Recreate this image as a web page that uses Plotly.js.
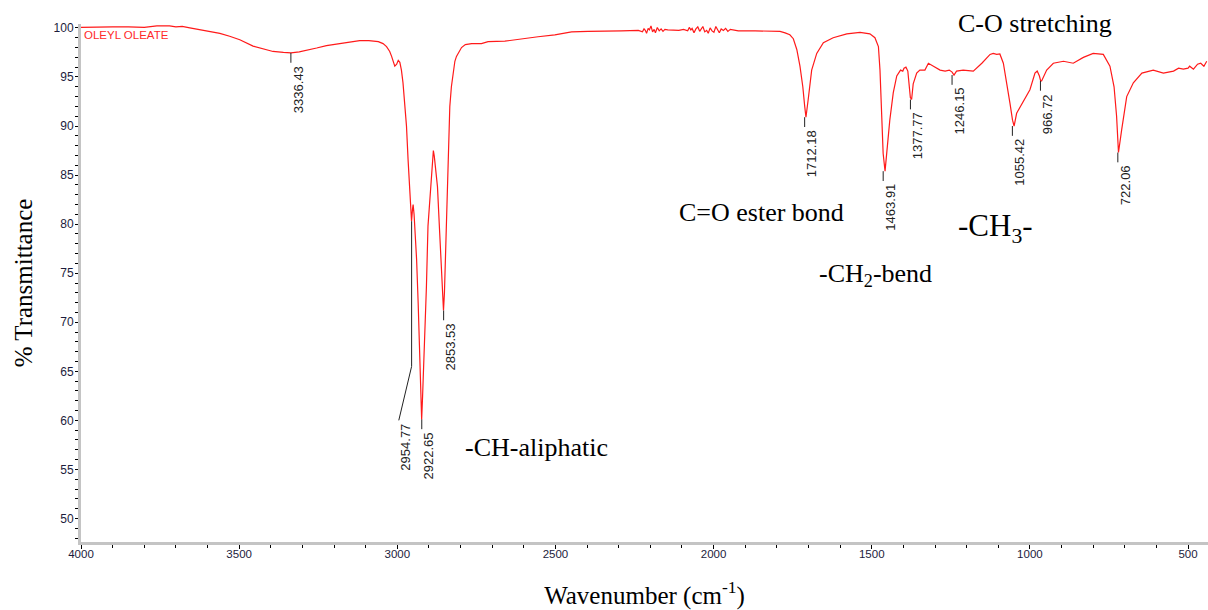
<!DOCTYPE html>
<html>
<head>
<meta charset="utf-8">
<script src="https://cdn.plot.ly/plotly-3.0.1.min.js"></script>
<style>html,body{margin:0;padding:0;background:#fff;}#chart{width:1208px;height:610px;}</style>
</head>
<body>
<div id="chart"></div>
<script>
// Spectrum
const wavenumber = [4000,3950,3900,3850,3800,3760,3720,3700,3680,3656,3624,3590,3561,3530,3498,3456,3420,3393,3360,3336,3310,3287,3255,3224,3190,3161,3119,3090,3060,3045,3034,3024,3018,3012,3008,3002,2997,2992,2987,2982,2976,2971,2966,2960,2957,2955,2952,2950,2947,2945,2939,2934,2929,2926,2923,2920,2915,2908,2903,2894,2889,2886,2883,2878,2873,2866,2860,2856,2854,2851,2848,2844,2839,2834,2829,2824,2818,2813,2805,2797,2785,2765,2734,2713,2660,2607,2555,2502,2449,2397,2344,2291,2238,2225,2220,2216,2212,2207,2203,2198,2193,2188,2184,2178,2172,2166,2160,2154,2145,2133,2110,2095,2082,2077,2072,2068,2062,2056,2050,2044,2039,2034,2028,2022,2017,2011,2005,1999,1993,1988,1982,1976,1969,1962,1955,1947,1922,1869,1817,1790,1774,1759,1748,1737,1727,1718,1712,1708,1701,1690,1674,1653,1622,1579,1537,1506,1490,1479,1474,1469,1464,1458,1453,1443,1432,1421,1409,1402,1398,1392,1386,1381,1378,1374,1369,1358,1348,1332,1321,1305,1284,1268,1255,1246,1240,1232,1211,1179,1152,1126,1116,1105,1095,1084,1073,1063,1055,1050,1042,1021,1000,984,977,970,966,963,947,926,894,863,831,800,768,747,734,726,722,720,710,694,673,646,610,578,546,530,515,500,495,483,470,460,450,441];
const transmittance = [100.05,100.1,100.1,100.1,100.05,100.2,100.2,100.1,100.15,100.0,99.8,99.65,99.45,99.15,98.8,98.15,97.8,97.6,97.5,97.45,97.55,97.7,97.95,98.2,98.4,98.5,98.7,98.7,98.6,98.4,98.1,97.6,97.1,96.5,96.1,96.3,96.7,96.5,95.7,94.4,92.0,90.0,86.6,82.5,80.6,80.3,81.5,82.0,81.0,79.8,76.4,71.9,66.8,62.0,60.1,62.5,66.8,73.6,79.8,84.5,86.9,87.5,86.9,85.5,83.8,79.1,75.0,72.0,71.2,73.0,76.5,80.4,87.2,92.0,94.0,95.4,96.6,97.1,97.6,98.0,98.3,98.4,98.4,98.6,98.65,98.9,99.1,99.3,99.6,99.65,99.65,99.7,99.75,99.6,99.9,99.75,99.45,99.95,99.8,100.2,99.6,99.85,99.5,100.05,99.7,99.9,99.65,99.85,99.8,99.8,99.75,99.85,99.7,100.05,99.8,99.95,99.5,99.9,100.1,99.65,99.85,100.15,99.6,99.75,99.45,100.0,99.7,99.55,100.15,99.8,99.5,99.9,99.75,99.95,99.65,99.85,99.7,99.7,99.65,99.65,99.5,99.3,98.9,97.8,96.1,94.0,92.0,90.9,92.7,95.7,97.4,98.5,99.0,99.4,99.55,99.4,99.0,98.1,95.7,91.3,87.2,85.4,87.2,90.6,93.4,95.1,95.7,95.6,95.9,96.0,95.6,94.0,92.9,92.7,94.3,95.4,95.7,95.7,96.4,96.1,95.7,95.6,95.7,95.5,95.2,95.6,95.7,95.6,96.4,97.3,97.4,97.3,97.35,96.4,94.4,92.3,90.6,90.0,91.3,92.5,93.7,95.4,95.6,95.1,94.6,94.6,95.7,96.4,96.6,96.4,97.0,97.4,97.3,96.1,94.0,91.0,88.0,87.3,89.6,93.0,94.4,95.4,95.7,95.4,95.6,95.9,95.8,95.9,96.1,95.8,96.3,96.4,96.1,96.6,96.8];

// Peak picks
const peakWn = [3336.43, 2954.77, 2922.65, 2853.53, 1712.18, 1463.91, 1377.77, 1246.15, 1055.42, 966.72, 722.06];
const peakT  = [97.45, 80.3, 60.1, 71.2, 90.9, 85.4, 92.7, 95.2, 90.0, 94.6, 87.3];
const peakText = ["3336.43","2954.77","2922.65","2853.53","1712.18","1463.91","1377.77","1246.15","1055.42","966.72","722.06"];
// leader for 2954.77 (bent line)
const leaderWn = [2954.77, 2954.77, 2995.3];
const leaderT  = [80.3, 65.5, 60.0];

// Group labels
const groupText = ["C-O stretching", "C=O ester bond", "-CH<sub>2</sub>-bend", "-CH<sub>3</sub>-", "-CH-aliphatic"];
const groupWn   = [984, 1849, 1488, 1110, 2560];
const groupT    = [100.45, 81.15, 74.8, 79.6, 57.2];
const groupSize = [26, 26, 26, 31, 26];

const xTicks = [4000, 3500, 3000, 2500, 2000, 1500, 1000, 500];
const yTicks = [50, 55, 60, 65, 70, 75, 80, 85, 90, 95, 100];
const yRange = [47.6, 100.4];

const tickLen = 1.0;
const lx = [], ly = [];
const annX = [], annY = [];
peakWn.forEach((w, i) => {
  if (i === 1) {
    leaderWn.forEach((v, k) => { lx.push(v); ly.push(leaderT[k]); });
    lx.push(null); ly.push(null);
    annX.push(leaderWn[2]); annY.push(leaderT[2]);
  } else {
    lx.push(w, w, null); ly.push(peakT[i], peakT[i] - tickLen, null);
    annX.push(w); annY.push(peakT[i] - tickLen);
  }
});

const traces = [
  {x: wavenumber, y: transmittance, type: 'scatter', mode: 'lines',
   line: {color: '#ff1a1a', width: 1.2}, hoverinfo: 'x+y', showlegend: false},
  {x: lx, y: ly, type: 'scatter', mode: 'lines', line: {color: '#222', width: 1},
   hoverinfo: 'skip', showlegend: false}
];

const annotations = [];
peakText.forEach((t, i) => {
  annotations.push({x: annX[i], y: annY[i], xref: 'x', yref: 'y', text: t, showarrow: false,
    textangle: -90, xanchor: 'center', yanchor: 'top', xshift: 7, yshift: -1,
    font: {family: 'Liberation Sans, Arial, sans-serif', size: 13, color: '#222'}});
});
groupText.forEach((t, i) => {
  annotations.push({x: groupWn[i], y: (groupT[i] - yRange[0]) / (yRange[1] - yRange[0]),
    xref: 'x', yref: 'paper', text: t, showarrow: false,
    xanchor: 'center', yanchor: 'middle',
    font: {family: 'Liberation Serif, Times New Roman, serif', size: groupSize[i], color: '#000'}});
});
annotations.push({x: 4000, y: 100.05, xref: 'x', yref: 'y', text: 'OLEYL OLEATE', showarrow: false,
  xanchor: 'left', yanchor: 'top', xshift: 1,
  font: {family: 'Liberation Sans, Arial, sans-serif', size: 11.5, color: '#ff2a2a'}});

const layout = {
  width: 1208, height: 610,
  margin: {l: 81, r: 0, t: 24, b: 68},
  paper_bgcolor: '#fff', plot_bgcolor: '#fff',
  showlegend: false,
  xaxis: {
    range: [4000, 437], tickvals: xTicks, ticktext: xTicks.map(String),
    showgrid: false, zeroline: false, showline: true, linecolor: '#c4c4c4', linewidth: 3,
    ticks: 'outside', ticklen: 4, tickcolor: '#000', tickwidth: 1, ticklabelstandoff: -5,
    minor: {dtick: 100, tick0: 0, ticks: 'outside', ticklen: 3, tickcolor: '#000', showgrid: false},
    tickfont: {family: 'Liberation Sans, Arial, sans-serif', size: 11.5, color: '#1c1c3c'},
    title: {text: 'Wavenumber (cm<sup>-1</sup>)', standoff: 28,
      font: {family: 'Liberation Serif, Times New Roman, serif', size: 25, color: '#000'}}
  },
  yaxis: {
    range: yRange, tickvals: yTicks, ticktext: yTicks.map(String),
    showgrid: false, zeroline: false, showline: true, linecolor: '#c4c4c4', linewidth: 3,
    ticks: 'outside', ticklen: 3, tickcolor: '#000', tickwidth: 1, ticklabelstandoff: -1,
    minor: {dtick: 1, tick0: 0, ticks: 'outside', ticklen: 3, tickcolor: '#000', showgrid: false},
    tickfont: {family: 'Liberation Sans, Arial, sans-serif', size: 12, color: '#1c1c3c'},
    title: {text: '% Transmittance', standoff: 14,
      font: {family: 'Liberation Serif, Times New Roman, serif', size: 25, color: '#000'}}
  },
  annotations: annotations
};

Plotly.newPlot('chart', traces, layout, {displayModeBar: false, staticPlot: true});
</script>
</body>
</html>
